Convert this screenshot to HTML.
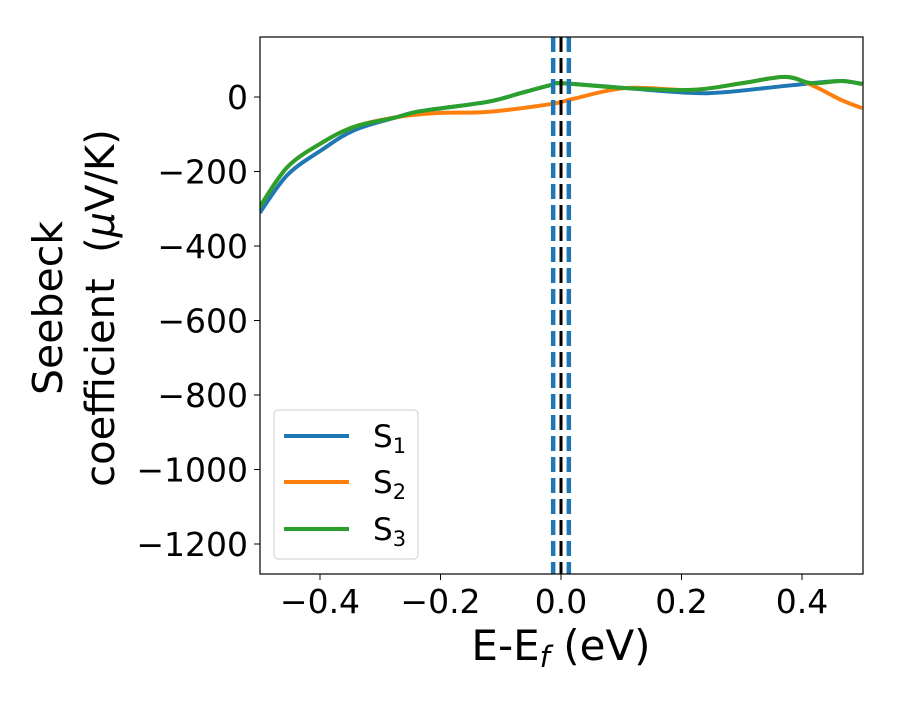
<!DOCTYPE html>
<html><head><meta charset="utf-8"><style>
body{margin:0;background:#fff;}
svg text{font-family:"DejaVu Sans","Liberation Sans",sans-serif;fill:#000;}
</style></head><body>
<svg width="900" height="700" xmlns="http://www.w3.org/2000/svg">
<defs><clipPath id="clip"><rect x="260" y="37" width="603" height="537"/></clipPath></defs>
<g id="plot" clip-path="url(#clip)"></g>
<rect x="260" y="37" width="603" height="537" fill="none" stroke="#000" stroke-width="1.2"/>
<g id="ticks"></g>
<text x="561" y="660" font-size="42" text-anchor="middle">E-E<tspan font-size="29" dy="7" font-style="italic">f</tspan><tspan dy="-7"> (eV)</tspan></text>
<g transform="translate(62,306) rotate(-90)">
<text x="-2" y="0" font-size="41" text-anchor="middle">Seebeck</text>
<text x="-2" y="52" font-size="40" text-anchor="middle">coefficient&#160; (<tspan font-style="italic">μ</tspan>V/K)</text>
</g>
<g>
<rect x="274" y="410" width="144" height="149" rx="4" fill="#fff" fill-opacity="0.8" stroke="#ccc" stroke-width="1"/>
<line x1="284" y1="436" x2="349" y2="436" stroke="#1f77b4" stroke-width="4"/>
<text x="373" y="447" font-size="31">S<tspan font-size="21" dy="6">1</tspan></text>
<line x1="284" y1="482" x2="349" y2="482" stroke="#ff7f0e" stroke-width="4"/>
<text x="373" y="493" font-size="31">S<tspan font-size="21" dy="6">2</tspan></text>
<line x1="284" y1="529" x2="349" y2="529" stroke="#2ca02c" stroke-width="4"/>
<text x="373" y="540" font-size="31">S<tspan font-size="21" dy="6">3</tspan></text>
</g>
</svg>
<script>
const xTicks=[-0.4,-0.2,0.0,0.2,0.4];
const xTickLabels=["−0.4","−0.2","0.0","0.2","0.4"];
const yTicks=[0,-200,-400,-600,-800,-1000,-1200];
const yTickLabels=["0","−200","−400","−600","−800","−1000","−1200"];
const s1x=[-0.5,-0.454,-0.397,-0.343,-0.272,-0.232,-0.122,-0.066,-0.017,0.002,0.107,0.217,0.273,0.356,0.416,0.465,0.5];
const s1y=[-311,-209,-142,-89,-54,-38,-13,11,32,37,24,11,13,27,37,43,35];
const s2x=[-0.5,-0.454,-0.397,-0.343,-0.272,-0.205,-0.122,-0.017,0.02,0.107,0.217,0.30,0.372,0.416,0.465,0.5];
const s2y=[-295,-188,-123,-80,-54,-43,-40,-19,-5,24,19,37,54,32,-8,-30];
const s3x=[-0.5,-0.454,-0.397,-0.343,-0.272,-0.232,-0.122,-0.066,-0.017,0.002,0.107,0.217,0.30,0.372,0.416,0.465,0.5];
const s3y=[-295,-188,-123,-80,-54,-38,-13,11,32,37,24,19,37,54,37,43,35];
const vlines=[-0.013,0.0,0.013];
const NS="http://www.w3.org/2000/svg";
const X=v=>561+v*602.5;
const Y=v=>97-v*0.3725;
function path(xs,ys){let d="M"+X(xs[0])+","+Y(ys[0]);
for(let i=0;i<xs.length-1;i++){const x0=X(xs[Math.max(i-1,0)]),y0=Y(ys[Math.max(i-1,0)]),x1=X(xs[i]),y1=Y(ys[i]),x2=X(xs[i+1]),y2=Y(ys[i+1]),x3=X(xs[Math.min(i+2,xs.length-1)]),y3=Y(ys[Math.min(i+2,ys.length-1)]);
d+=" C"+(x1+(x2-x0)/6)+","+(y1+(y2-y0)/6)+" "+(x2-(x3-x1)/6)+","+(y2-(y3-y1)/6)+" "+x2+","+y2;}return d;}
const plot=document.getElementById("plot");
[[s1x,s1y,"#1f77b4","series-s1"],[s2x,s2y,"#ff7f0e","series-s2"],[s3x,s3y,"#2ca02c","series-s3"]].forEach(s=>{
const p=document.createElementNS(NS,"path");p.setAttribute("d",path(s[0],s[1]));p.setAttribute("fill","none");p.setAttribute("stroke",s[2]);p.setAttribute("stroke-width","4");


plot.appendChild(p);});
vlines.forEach(v=>{const l=document.createElementNS(NS,"line");l.setAttribute("x1",X(v));l.setAttribute("x2",X(v));l.setAttribute("y1",37);l.setAttribute("y2",574);
l.setAttribute("stroke",v===0?"#000":"#1f77b4");l.setAttribute("stroke-width",v===0?"3":"4.5");l.setAttribute("stroke-dasharray","15,6");


plot.appendChild(l);});
const tg=document.getElementById("ticks");
xTicks.forEach((v,i)=>{const l=document.createElementNS(NS,"line");l.setAttribute("x1",X(v));l.setAttribute("x2",X(v));l.setAttribute("y1",574);l.setAttribute("y2",580);l.setAttribute("stroke","#000");


tg.appendChild(l);
const t=document.createElementNS(NS,"text");t.setAttribute("x",X(v));t.setAttribute("y",613);t.setAttribute("font-size","33");t.setAttribute("text-anchor","middle");t.textContent=xTickLabels[i];


tg.appendChild(t);});
yTicks.forEach((v,i)=>{const l=document.createElementNS(NS,"line");l.setAttribute("x1",254);l.setAttribute("x2",260);l.setAttribute("y1",Y(v));l.setAttribute("y2",Y(v));l.setAttribute("stroke","#000");


tg.appendChild(l);
const t=document.createElementNS(NS,"text");t.setAttribute("x",248);t.setAttribute("y",Y(v)+12);t.setAttribute("font-size","33");t.setAttribute("text-anchor","end");t.textContent=yTickLabels[i];


tg.appendChild(t);});
</script>
</body></html>
